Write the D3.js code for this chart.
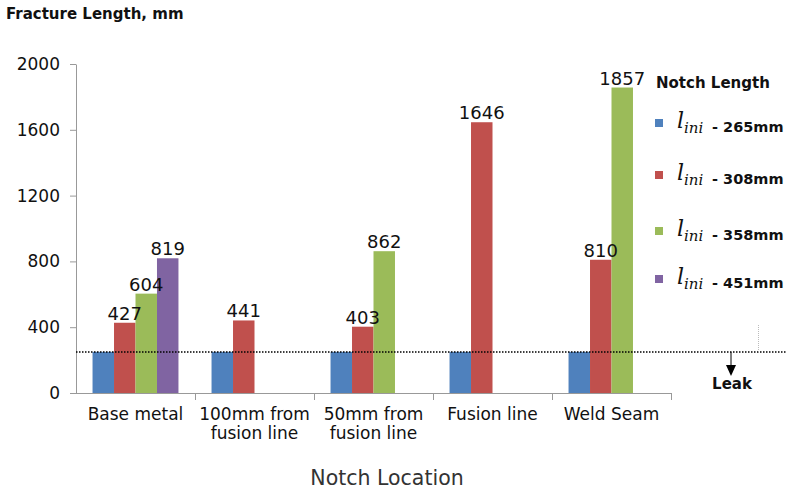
<!DOCTYPE html>
<html><head><meta charset="utf-8">
<script src="https://cdn.jsdelivr.net/npm/d3@7"></script>
<style>body{margin:0;background:#fff}svg{display:block}</style>
</head><body>
<script>
const categories = [["Base metal"], ["100mm from", "fusion line"], ["50mm from", "fusion line"], ["Fusion line"], ["Weld Seam"]];
const seriesNames = ["265mm", "308mm", "358mm", "451mm"];
const seriesColors = ["#4F81BD", "#C0504D", "#9BBB59", "#8064A2"];
const s265 = [250, 250, 250, 250, 250];
const s308 = [427, 441, 403, 1646, 810];
const s358 = [604, null, 862, null, 1857];
const s451 = [819, null, null, null, null];
const yTicks = [0, 400, 800, 1200, 1600, 2000];
const leakValue = [250];

const W = 792, H = 492;
const svg = d3.select("body").append("svg").attr("width", W).attr("height", H);
const series = [s265, s308, s358, s451];
const FONT = "DejaVu Sans, Verdana, sans-serif";

const x = d3.scaleBand().domain(d3.range(categories.length)).range([76, 671]).padding(0);
const xs = d3.scaleBand().domain(d3.range(4)).range([0, x.bandwidth()]).paddingInner(0).paddingOuter(0.77);
const y = d3.scaleLinear().domain([0, 2000]).range([393, 64]);

// bars
const data = [];
series.forEach((s, si) => s.forEach((v, ci) => { if (v != null) data.push({si, ci, v}); }));
svg.append("g").selectAll("rect").data(data).join("rect")
  .attr("x", d => x(d.ci) + xs(d.si))
  .attr("y", d => y(d.v))
  .attr("width", xs.bandwidth())
  .attr("height", d => y(0) - y(d.v))
  .attr("fill", d => seriesColors[d.si]);

// value labels (not for blue)
svg.append("g").selectAll("text").data(data.filter(d => d.si > 0)).join("text")
  .attr("x", d => x(d.ci) + xs(d.si) + xs.bandwidth() / 2)
  .attr("y", d => y(d.v) - 3)
  .attr("text-anchor", "middle")
  .attr("font-family", FONT)
  .attr("font-size", 18)
  .attr("fill", "#111")
  .text(d => d.v);

// y axis
const yAxis = d3.axisLeft(y).tickValues(yTicks).tickFormat(d3.format("d")).tickSize(6).tickSizeOuter(0).tickPadding(10);
const gy = svg.append("g").attr("transform", "translate(76,0)").call(yAxis);
gy.select(".domain").attr("stroke", "#999");
gy.selectAll(".tick line").attr("stroke", "#999");
gy.selectAll(".tick text").attr("font-family", FONT).attr("font-size", 17).attr("fill", "#111");

// x axis
const xb = d3.scaleLinear().domain([0, categories.length]).range([76, 671]);
const xAxis = d3.axisBottom(xb).tickValues(d3.range(1, categories.length + 1)).tickSize(7).tickSizeOuter(0).tickFormat("");
const gx = svg.append("g").attr("transform", "translate(0,393)").call(xAxis);
gx.select(".domain").attr("stroke", "#999").attr("d", "M70,0.5H671");
gx.selectAll(".tick line").attr("stroke", "#999");

const cl = svg.append("g").selectAll("text").data(categories).join("text")
  .attr("text-anchor", "middle")
  .attr("font-family", FONT)
  .attr("font-size", 17)
  .attr("fill", "#111");
cl.each(function(lines, i) {
  d3.select(this).selectAll("tspan").data(lines).join("tspan")
    .attr("x", x(i) + x.bandwidth() / 2)
    .attr("y", (d, j) => 420 + j * 19)
    .text(d => d);
});

// leak dotted line
svg.append("line").attr("x1", 76).attr("x2", 787).attr("y1", y(leakValue[0])).attr("y2", y(leakValue[0]))
  .attr("stroke", "#000").attr("stroke-width", 1.5).attr("stroke-dasharray", "1.5,1.5");
svg.append("line").attr("x1", 758.5).attr("x2", 758.5).attr("y1", 325).attr("y2", y(leakValue[0]))
  .attr("stroke", "#bbb").attr("stroke-width", 1).attr("stroke-dasharray", "1,1");
svg.append("line").attr("x1", 731).attr("x2", 731).attr("y1", y(leakValue[0])).attr("y2", 366)
  .attr("stroke", "#000").attr("stroke-width", 1);
svg.append("path").attr("d", "M726,365L736,365L731,376Z").attr("fill", "#000");
svg.append("text").attr("x", 732).attr("y", 389).attr("text-anchor", "middle")
  .attr("font-family", FONT).attr("font-weight", "bold").attr("font-size", 15)
  .attr("fill", "#111").text("Leak");

// titles
svg.append("text").attr("x", 6).attr("y", 19)
  .attr("font-family", FONT).attr("font-weight", "bold").attr("font-size", 15)
  .attr("fill", "#111").text("Fracture Length, mm");
svg.append("text").attr("x", 387).attr("y", 485).attr("text-anchor", "middle")
  .attr("font-family", FONT).attr("font-size", 20.5)
  .attr("fill", "#333").text("Notch Location");

// legend
svg.append("text").attr("x", 656).attr("y", 88)
  .attr("font-family", FONT).attr("font-weight", "bold").attr("font-size", 15)
  .attr("fill", "#111").text("Notch Length");
const legY = [123, 175, 231, 279];
const lg = svg.append("g").selectAll("g").data(seriesNames).join("g")
  .attr("transform", (d, i) => `translate(0,${legY[i]})`);
lg.append("rect").attr("x", 655).attr("y", -4).attr("width", 8).attr("height", 8).attr("fill", (d, i) => seriesColors[i]);
lg.append("text").attr("x", 677).attr("y", 5)
  .attr("font-family", "DejaVu Serif, Liberation Serif, serif").attr("font-style", "italic").attr("font-size", 22)
  .attr("fill", "#111").text("l");
lg.append("text").attr("x", 684).attr("y", 10)
  .attr("font-family", "DejaVu Serif, Liberation Serif, serif").attr("font-style", "italic").attr("font-size", 15)
  .attr("fill", "#111").text("ini");
lg.append("text").attr("x", 712).attr("y", 9)
  .attr("font-family", FONT).attr("font-weight", "bold").attr("font-size", 14.5)
  .attr("fill", "#111").text(d => "- " + d);
</script>
</body></html>
